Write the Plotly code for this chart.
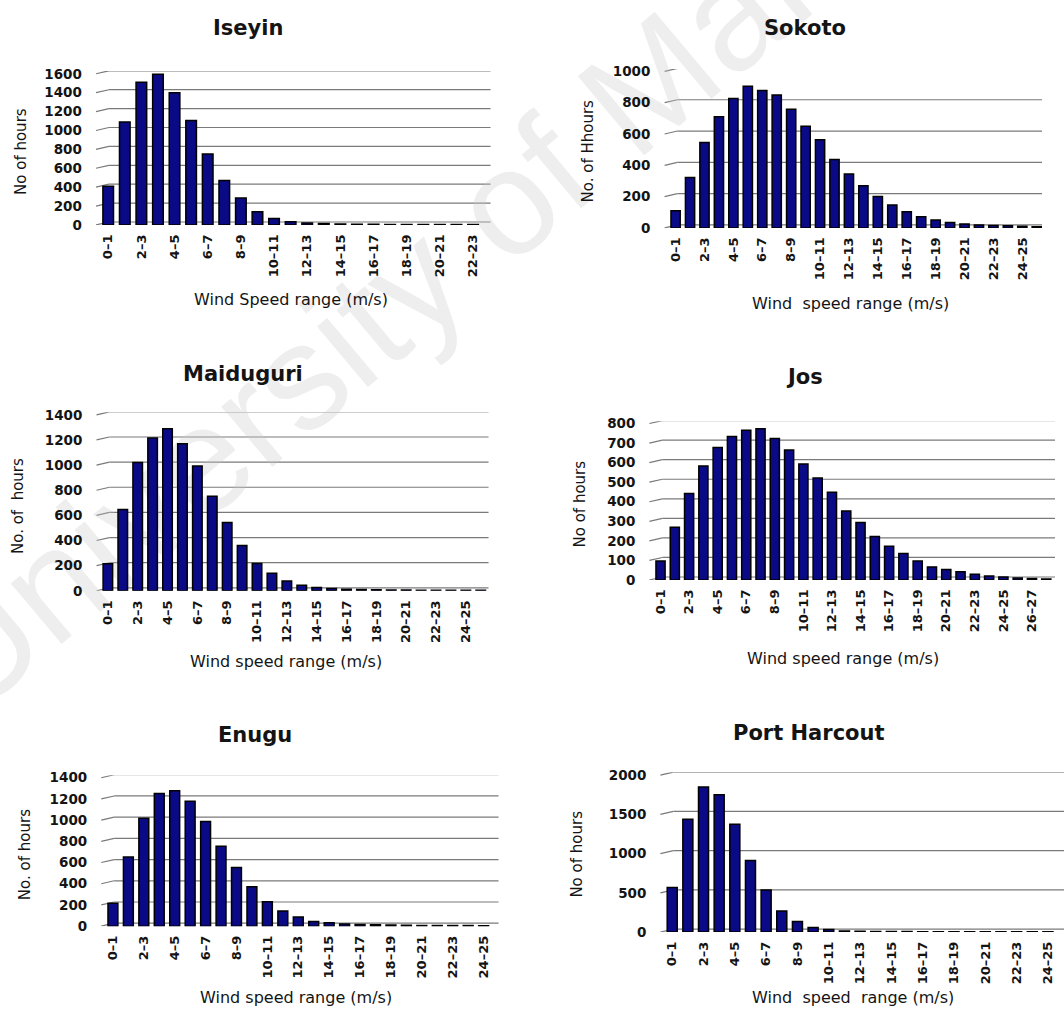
import math
import plotly.graph_objects as go

# ---- data: hours per 1 m/s wind-speed bin for each station ----
def bins(n):
    return [f"{i}\u2013{i + 1}" for i in range(n)]

iseyin_bins = bins(23)
iseyin_hours = [410, 1090, 1510, 1595, 1400, 1105, 750, 470, 285, 140, 68, 35,
                20, 14, 10, 7, 6, 5, 5, 4, 4, 4, 4]

sokoto_bins = bins(26)
sokoto_hours = [110, 322, 545, 710, 826, 905, 878, 849, 758, 649, 563, 437, 345,
                269, 200, 147, 103, 71, 50, 34, 25, 19, 15, 13, 10, 8]

maiduguri_bins = bins(26)
maiduguri_hours = [215, 646, 1020, 1216, 1289, 1169, 993, 753, 544, 361, 217, 139,
                   78, 44, 26, 18, 12, 10, 8, 7, 6, 5, 5, 4, 4, 4]

jos_bins = bins(28)
jos_hours = [97, 269, 442, 583, 677, 734, 765, 773, 724, 664, 593, 521, 449, 353,
             294, 222, 173, 136, 97, 67, 54, 42, 29, 20, 15, 10, 7, 5]

enugu_bins = bins(25)
enugu_hours = [217, 651, 1017, 1250, 1277, 1178, 986, 753, 552, 372, 229, 143, 87,
               43, 31, 20, 15, 12, 10, 8, 7, 6, 5, 5, 4]

ph_bins = bins(25)
ph_hours = [569, 1436, 1847, 1750, 1373, 913, 536, 268, 134, 59, 33, 15, 10, 8, 7,
            6, 5, 5, 4, 4, 4, 4, 3, 3, 3]

iseyin_ticks = [0, 200, 400, 600, 800, 1000, 1200, 1400, 1600]
sokoto_ticks = [0, 200, 400, 600, 800, 1000]
maiduguri_ticks = [0, 200, 400, 600, 800, 1000, 1200, 1400]
jos_ticks = [0, 100, 200, 300, 400, 500, 600, 700, 800]
enugu_ticks = [0, 200, 400, 600, 800, 1000, 1200, 1400]
ph_ticks = [0, 500, 1000, 1500, 2000]

W, H = 1064, 1016
FONT = "'DejaVu Sans', Verdana, sans-serif"
INK = "#141414"
BAR = "#0a0a86"
GRID = "#7a7a7a"


def px(x):
    return x / W


def py(y):
    return 1 - y / H


# panel layout in page pixels: plot left/right, base/top, category width, px per unit
panels = [
    dict(name="Iseyin", cats=iseyin_bins, vals=iseyin_hours, ticks=iseyin_ticks,
         left=99, right=490, base=222, top=66, cw=16.6, ppu=0.0958,
         title=(247, 22), ytitle=(20, 147), xtitle=(290, 298),
         ylab="No of hours", xlab="Wind Speed range (m/s)"),
    dict(name="Sokoto", cats=sokoto_bins, vals=sokoto_hours, ticks=sokoto_ticks,
         left=668, right=1042, base=225, top=64, cw=14.46, ppu=0.1587,
         title=(805, 22), ytitle=(588, 147), xtitle=(850, 302),
         ylab="No. of Hhours", xlab="Wind\u00a0 speed range (m/s)"),
    dict(name="Maiduguri", cats=maiduguri_bins, vals=maiduguri_hours, ticks=maiduguri_ticks,
         left=99.5, right=488, base=593, top=412, cw=14.93, ppu=0.1275,
         title=(242, 373), ytitle=(17, 507), xtitle=(285, 665),
         ylab="No. of\u00a0 hours", xlab="Wind speed range (m/s)"),
    dict(name="Jos", cats=jos_bins, vals=jos_hours, ticks=jos_ticks,
         left=653, right=1055, base=582, top=421, cw=14.3, ppu=0.1983,
         title=(804, 376), ytitle=(580, 505), xtitle=(843, 662),
         ylab="No of hours", xlab="Wind speed range (m/s)"),
    dict(name="Enugu", cats=enugu_bins, vals=enugu_hours, ticks=enugu_ticks,
         left=104.3, right=498, base=933, top=780, cw=15.46, ppu=0.1075,
         title=(254, 739), ytitle=(24, 860), xtitle=(295, 1005),
         ylab="No. of hours", xlab="Wind speed range (m/s)"),
    dict(name="Port Harcout", cats=ph_bins, vals=ph_hours, ticks=ph_ticks,
         left=664, right=1064, base=939, top=777, cw=15.67, ppu=0.0796,
         title=(809, 737), ytitle=(577, 860), xtitle=(853, 1005),
         ylab="No of hours", xlab="Wind\u00a0 speed\u00a0 range (m/s)"),
]

fig = go.Figure()
layout = dict(
    width=W, height=H, margin=dict(l=0, r=0, t=0, b=0),
    paper_bgcolor="white", plot_bgcolor="rgba(0,0,0,0)",
    showlegend=False, bargap=0.36,
    font=dict(family=FONT, color=INK),
)
annotations = []
shapes = []

for i, p in enumerate(panels, start=1):
    xa = "x" if i == 1 else f"x{i}"
    ya = "y" if i == 1 else f"y{i}"
    xkey = "xaxis" if i == 1 else f"xaxis{i}"
    ykey = "yaxis" if i == 1 else f"yaxis{i}"
    n = len(p["cats"])
    xmax = -0.5 + (p["right"] - p["left"]) / p["cw"]
    ymax = (p["base"] - p["top"]) / p["ppu"]

    fig.add_trace(go.Bar(
        x=list(range(n)), y=p["vals"], xaxis=xa, yaxis=ya,
        marker=dict(color=BAR, line=dict(color="#000000", width=1.5)),
        width=0.64, hoverinfo="x+y",
    ))

    layout[xkey] = dict(
        domain=[px(p["left"]), px(p["right"])], anchor=ya,
        range=[-0.5, xmax], showgrid=False, zeroline=False, showline=False,
        tickmode="array", tickvals=list(range(0, n, 2)),
        ticktext=[p["cats"][k] for k in range(0, n, 2)],
        tickangle=-90, ticks="", ticklabelstandoff=6,
        tickfont=dict(size=13, family=FONT, color=INK, weight="bold"),
    )
    layout[ykey] = dict(
        domain=[py(p["base"]), py(p["top"])], anchor=xa,
        range=[0, ymax], showgrid=False, zeroline=False, showline=False,
        tickmode="array", tickvals=p["ticks"], ticks="", ticklabelstandoff=17,
        tickfont=dict(size=13.5, family=FONT, color=INK, weight="bold"),
    )

    # back-wall gridlines with a short slanted return towards the front
    dv = 3 / p["ppu"]
    slant = 9 / (p["right"] - p["left"])
    for v in p["ticks"]:
        shapes.append(dict(type="line", xref=f"{xa} domain", yref=ya, layer="below",
                           x0=-0.01, x1=slant, y0=v, y1=v + dv,
                           line=dict(color=GRID, width=1.2)))
        shapes.append(dict(type="line", xref=f"{xa} domain", yref=ya, layer="below",
                           x0=slant, x1=1, y0=v + dv, y1=v + dv,
                           line=dict(color=GRID, width=1.2)))

    tx, ty = p["title"]
    annotations.append(dict(text=f"<b>{p['name']}</b>", x=px(tx), y=py(ty),
                            xref="paper", yref="paper", showarrow=False,
                            xanchor="center", yanchor="middle",
                            font=dict(size=21, family=FONT, color=INK)))
    ax_, ay_ = p["xtitle"]
    annotations.append(dict(text=p["xlab"], x=px(ax_), y=py(ay_),
                            xref="paper", yref="paper", showarrow=False,
                            xanchor="center", yanchor="middle",
                            font=dict(size=16, family=FONT, color=INK)))
    yx, yy = p["ytitle"]
    annotations.append(dict(text=p["ylab"], x=px(yx), y=py(yy),
                            xref="paper", yref="paper", showarrow=False,
                            textangle=-90, xanchor="center", yanchor="middle",
                            font=dict(size=15, family=FONT, color=INK)))

# faint diagonal watermark, kept beneath the bars
wm_cx, wm_cy, wm_ang, wm_half = 445, 233, 40, 120
dx = wm_half * math.cos(math.radians(wm_ang))
dy = wm_half * math.sin(math.radians(wm_ang))
shapes.append(dict(
    type="line", xref="paper", yref="paper", layer="below",
    x0=px(wm_cx - dx), y0=py(wm_cy + dy), x1=px(wm_cx + dx), y1=py(wm_cy - dy),
    line=dict(color="rgba(0,0,0,0)", width=0),
    label=dict(text="University of Malaya", textposition="middle",
               yanchor="middle", textangle=-wm_ang,
               font=dict(size=150, family="'Liberation Sans', Arial, sans-serif",
                         color="rgba(200,200,200,0.3)")),
))

layout["annotations"] = annotations
layout["shapes"] = shapes
fig.update_layout(**layout)
fig.write_html("out.html")
